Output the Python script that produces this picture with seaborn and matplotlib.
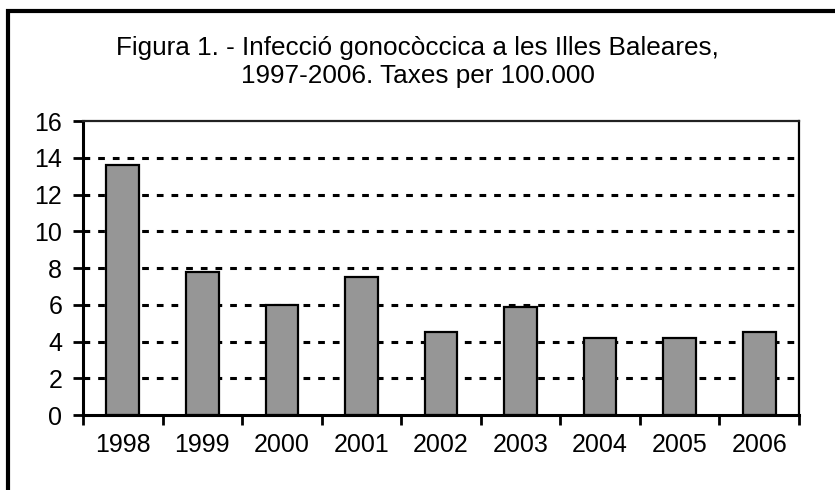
import matplotlib
matplotlib.use("Agg")
import matplotlib.pyplot as plt
import seaborn as sns
import pandas as pd
from matplotlib.patches import Rectangle
from matplotlib.ticker import FixedLocator

years = ["1998", "1999", "2000", "2001", "2002", "2003", "2004", "2005", "2006"]
rates = [13.6, 7.8, 6.0, 7.5, 4.5, 5.9, 4.2, 4.2, 4.5]
y_ticks = [0, 2, 4, 6, 8, 10, 12, 14, 16]
title_lines = ["Figura 1. - Infecció gonocòccica a les Illes Baleares,",
               "1997-2006. Taxes per 100.000"]

sns.set_style("white")
plt.rcParams["font.family"] = ["Liberation Sans", "DejaVu Sans"]
plt.rcParams["text.color"] = "black"
plt.rcParams["xtick.labelcolor"] = "black"
plt.rcParams["ytick.labelcolor"] = "black"

df = pd.DataFrame({"year": years, "rate": rates})

fig = plt.figure(figsize=(8.35, 4.9), dpi=100)
ax = fig.add_axes([83/835, 1-415/490, (799-83)/835, (415-121)/490])

sns.barplot(data=df, x="year", y="rate", ax=ax, color="#969696",
            edgecolor="black", linewidth=1.6, width=0.41, saturation=1)

ax.set_ylim(0, 16)
ax.set_xlim(-0.5, len(years) - 0.5)
ax.set_yticks(y_ticks)
ax.set_yticklabels([str(v) for v in y_ticks], fontsize=18, color="black")

# gridlines
for v in y_ticks[1:-1]:
    ax.axhline(v, color="black", linestyle=(0, (2.2, 2.6)), linewidth=2.2, zorder=0.5)

# x ticks at category boundaries, labels at centers
ax.set_xticks(range(len(years)))
ax.set_xticklabels(years, fontsize=18, color="black")
ax.tick_params(axis="x", which="major", bottom=True, length=0, pad=13)
ax.xaxis.set_minor_locator(FixedLocator([i - 0.5 for i in range(len(years) + 1)]))
ax.tick_params(axis="x", which="minor", bottom=True, length=7, width=2, direction="out", color="black")
ax.tick_params(axis="y", which="major", left=True, length=7, width=2, direction="out",
               color="black", pad=8)

ax.set_xlabel("")
ax.set_ylabel("")

for side in ["left", "bottom"]:
    ax.spines[side].set_color("black")
    ax.spines[side].set_linewidth(2.2)
ax.spines["right"].set_color("black")
ax.spines["right"].set_linewidth(1.6)
ax.spines["top"].set_color("#222222")
ax.spines["top"].set_linewidth(1.6)

fig.text(0.5, 1-48/490, title_lines[0], ha="center", va="center", fontsize=18.8, color="black")
fig.text(0.5, 1-76/490, title_lines[1], ha="center", va="center", fontsize=18.8, color="black")

fig.patches.append(Rectangle((8/835, -0.1), 1.2, 1.1 - 11/490, transform=fig.transFigure,
                             fill=False, edgecolor="black", linewidth=3, figure=fig))

fig.savefig("out.png", dpi=100)
